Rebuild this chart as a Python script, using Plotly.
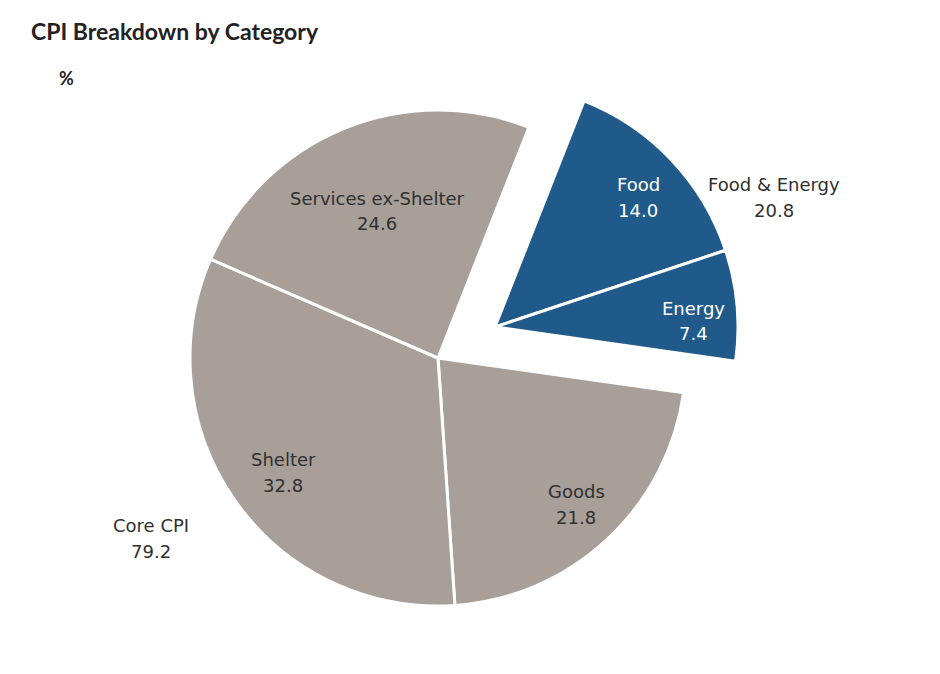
import plotly.graph_objects as go

# Datos del gráfico (%)
categorias = ["Food", "Energy", "Goods", "Shelter", "Services ex-Shelter"]
valores = [14.0, 7.4, 21.8, 32.8, 24.6]
es_alimentos_energia = [True, True, False, False, False]

grupo_fe = "Food & Energy"
valor_fe = 20.8
grupo_core = "Core CPI"
valor_core = 79.2

W, H = 940, 674
OFF = 8  # margen por defecto del <body>
GRIS = "#a89f99"
AZUL = "#1f5a8b"
TRANSP = "rgba(0,0,0,0)"
TEXTO = "#303030"


def px(x):
    return (x - OFF) / W


def py(y):
    return 1 - (y - OFF) / H


def dominio(cx, cy, r):
    return dict(x=[px(cx - r), px(cx + r)], y=[py(cy + r), py(cy - r)])


fig = go.Figure()

# Parte gris (Core CPI)
fig.add_trace(go.Pie(
    labels=categorias,
    values=valores,
    sort=False,
    direction="clockwise",
    rotation=21.5,
    textinfo="none",
    hoverinfo="skip",
    domain=dominio(438, 358, 248),
    marker=dict(
        colors=[TRANSP if f else GRIS for f in es_alimentos_energia],
        line=dict(color=[TRANSP if f else "white" for f in es_alimentos_energia], width=3),
    ),
    showlegend=False,
))

# Parte azul (Food & Energy), desplazada como grupo
fig.add_trace(go.Pie(
    labels=categorias,
    values=valores,
    sort=False,
    direction="clockwise",
    rotation=21.5,
    textinfo="none",
    hoverinfo="skip",
    domain=dominio(495, 327, 243),
    marker=dict(
        colors=[AZUL if f else TRANSP for f in es_alimentos_energia],
        line=dict(color=["white" if f else TRANSP for f in es_alimentos_energia], width=3),
    ),
    showlegend=False,
))

# Etiquetas: (x, y de la primera línea)
pos_etiquetas = {
    "Food": (638, 184),
    "Energy": (693, 308),
    "Goods": (576, 491),
    "Shelter": (283, 460),
    "Services ex-Shelter": (377, 198),
}
fuente = "DejaVu Sans"
tam = 18
salto = 26


def etiqueta(x, y, nombre, valor, color=TEXTO):
    for i, t in enumerate([nombre, f"{valor:.1f}"]):
        fig.add_annotation(
            x=px(x), y=py(y + i * salto), xref="paper", yref="paper",
            xanchor="center", yanchor="middle",
            text=t, showarrow=False,
            font=dict(family=fuente, size=tam, color=color),
        )


for cat, val, fe in zip(categorias, valores, es_alimentos_energia):
    x, y = pos_etiquetas[cat]
    etiqueta(x, y, cat, val, "white" if fe else TEXTO)

etiqueta(774, 184, grupo_fe, valor_fe)
etiqueta(151, 525, grupo_core, valor_core)

# Título y unidad
fig.add_annotation(
    x=px(29), y=py(31), xref="paper", yref="paper",
    xanchor="left", yanchor="middle",
    text="<b>CPI Breakdown by Category</b>", showarrow=False,
    font=dict(family="Lato", size=23, color="#222222"),
)
fig.add_annotation(
    x=px(57), y=py(78), xref="paper", yref="paper",
    xanchor="left", yanchor="middle",
    text="<b>%</b>", showarrow=False,
    font=dict(family="Lato", size=18, color="#222222"),
)

fig.update_layout(
    width=W,
    height=H,
    margin=dict(l=0, r=0, t=0, b=0),
    paper_bgcolor="white",
    plot_bgcolor="white",
    showlegend=False,
)

fig.write_html("out.html")
